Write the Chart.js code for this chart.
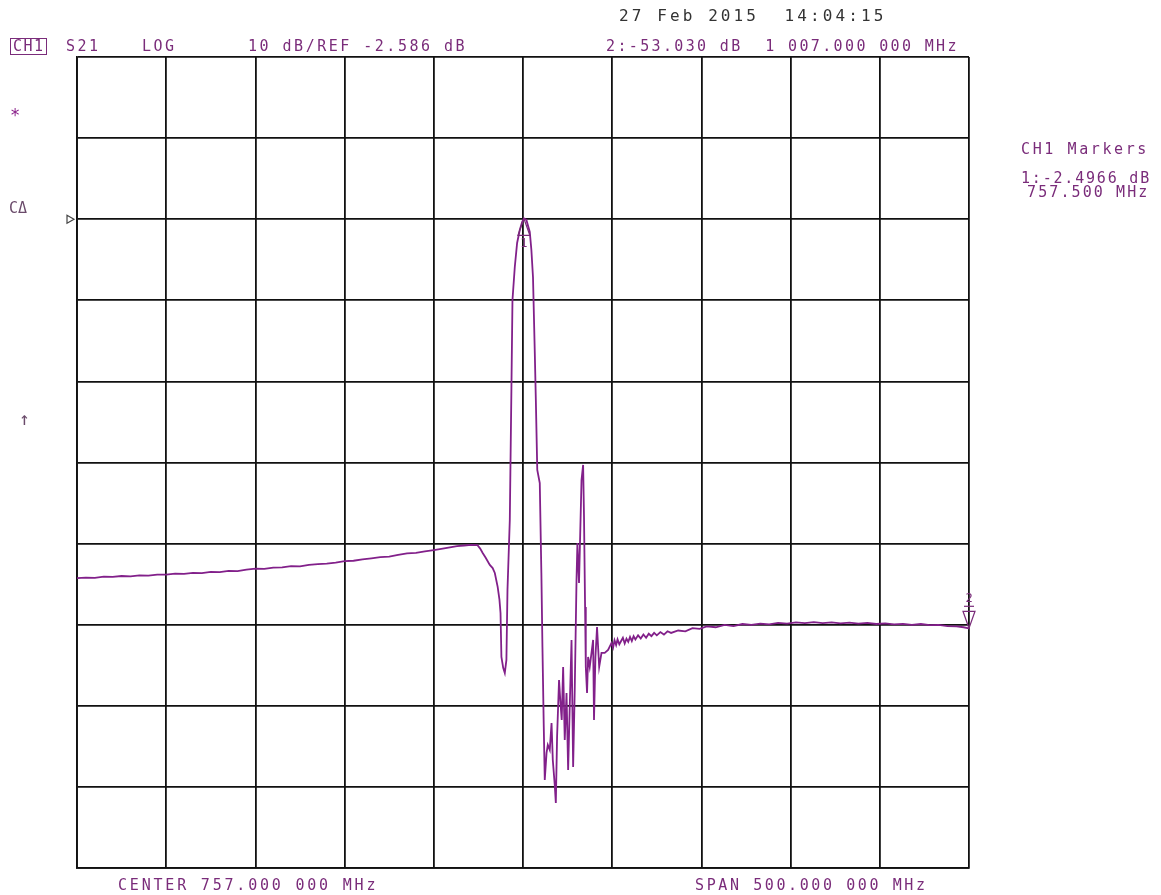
<!DOCTYPE html>
<html><head><meta charset="utf-8">
<script src="https://cdn.jsdelivr.net/npm/chart.js@4"></script>
<style>
html,body{margin:0;padding:0;background:#fff;}
#wrap{position:relative;width:1161px;height:895px;overflow:hidden;background:#fff;}
#c{position:absolute;left:0;top:0;}
.t{position:absolute;font-family:"DejaVu Sans Mono",monospace;font-size:15px;letter-spacing:2.5px;color:#7a2c7a;white-space:pre;line-height:15px;}
.d{color:#333;font-size:16px;letter-spacing:3.1px;line-height:16px;}
.g{color:#6a4a6a;}
.box{border:1px solid #7a2c7a;padding:0 1px 0 2px;letter-spacing:1.5px;}
</style></head>
<body><div id="wrap"><canvas id="c" width="1161" height="895"></canvas>
<div class="t d" style="left:619px;top:8px;">27 Feb 2015  14:04:15</div>
<div class="t box" style="left:10px;top:38px;">CH1</div>
<div class="t" style="left:66px;top:39px;">S21</div>
<div class="t" style="left:142px;top:39px;">LOG</div>
<div class="t" style="left:248px;top:39px;">10 dB/REF -2.586 dB</div>
<div class="t" style="left:606px;top:39px;letter-spacing:2.35px;">2:-53.030 dB  1 007.000 000 MHz</div>
<div class="t" style="left:1021px;top:142px;letter-spacing:2.6px;">CH1 Markers</div>
<div class="t" style="left:1021px;top:171px;letter-spacing:1.8px;">1:-2.4966 dB</div>
<div class="t" style="left:1027px;top:185px;letter-spacing:2.1px;">757.500 MHz</div>
<div class="t" style="left:10px;top:108px;color:#8a208a;font-size:17px;">*</div>
<div class="t g" style="left:9px;top:201px;letter-spacing:0px;">CΔ</div>
<div class="t g" style="left:19px;top:411px;font-size:18px;">↑</div>
<div class="t" style="left:118px;top:878px;letter-spacing:2.8px;">CENTER 757.000 000 MHz</div>
<div class="t" style="left:695px;top:878px;letter-spacing:2.6px;">SPAN 500.000 000 MHz</div>
</div>
<script>
// ---- data ----
const freqMHz = [
 507,512,517,522,527,532,537,542,547,552,557,562,567,572,577,582,587,592,597,602,
 607,612,617,622,627,632,637,642,647,652,657,662,667,672,677,682,687,692,697,702,
 707,712,716,720,724,728,731.5,733,734.4,736,738.4,740,741.2,742.8,743.8,744.4,744.9,745.9,746.8,747.7,
 748.3,749.6,750.5,751.1,752.4,753.7,755.2,756.5,757.5,758.9,760.8,761.7,762.6,763.6,764.2,765.0,766.4,767.3,767.9,768.6,
 769.2,770.2,770.9,772.0,773.0,773.7,774.8,775.4,776.1,777.2,778.0,778.7,779.5,780.4,781.4,782.3,783.2,784.2,785.1,786.0,
 787.0,787.5,788.4,789.8,790.7,791.2,791.8,792.2,792.9,793.5,794.4,795.4,796.3,796.8,797.6,798.5,799.7,801.0,802.8,804.7,
 806.6,807.5,808.3,809.2,810,811,812,813,814,815,816,817,818,819,820,821.5,823,824.5,826,827.5,
 829,830.5,832,834,836,838,840,844,848,852,856,860,
 865,870,875,880,885,890,895,900,905,910,915,920,925,930,935,940,945,950,955,960,
 965,970,975,980,985,990,995,1000,1004,1007
];
const s21dB = [
 -46.85,-46.78,-46.80,-46.66,-46.70,-46.58,-46.62,-46.50,-46.53,-46.42,-46.40,-46.28,-46.33,-46.20,-46.22,-46.08,-46.10,-45.95,-45.98,-45.80,
 -45.66,-45.70,-45.55,-45.52,-45.36,-45.40,-45.20,-45.12,-45.05,-44.92,-44.75,-44.70,-44.52,-44.40,-44.26,-44.18,-43.98,-43.80,-43.72,-43.55,
 -43.38,-43.20,-43.05,-42.90,-42.82,-42.75,-42.78,-43.20,-43.74,-44.30,-45.22,-45.60,-46.21,-47.93,-49.50,-51.14,-56.57,-57.90,-58.54,-56.93,
 -48.30,-39.67,-23.65,-12.55,-8.48,-5.52,-3.92,-2.93,-2.50,-2.68,-4.16,-6.38,-9.71,-18.96,-24.88,-33.51,-35.11,-46.21,-55.33,-64.70,
 -71.73,-68.40,-67.42,-68.03,-64.70,-69.27,-72.35,-74.57,-66.43,-59.40,-62.24,-64.33,-57.80,-66.80,-61.00,-70.50,-62.70,-54.47,-70.13,-60.63,
 -47.07,-42.51,-47.44,-34.74,-32.89,-39.30,-50.40,-57.80,-61.00,-56.57,-57.80,-56.07,-54.47,-64.33,-56.57,-52.87,-57.80,-56.07,-56.07,-55.70,
 -54.84,-55.40,-54.50,-55.10,-54.40,-55.00,-54.60,-54.20,-54.90,-54.30,-54.70,-54.10,-54.60,-54.00,-54.40,-53.90,-54.30,-53.80,-54.20,-53.70,
 -54.00,-53.60,-53.90,-53.50,-53.80,-53.40,-53.60,-53.30,-53.40,-53.00,-53.10,-52.80,
 -52.90,-52.60,-52.75,-52.50,-52.60,-52.45,-52.55,-52.35,-52.45,-52.30,-52.40,-52.28,-52.38,-52.30,-52.42,-52.32,-52.45,-52.36,-52.50,-52.42,
 -52.55,-52.48,-52.60,-52.50,-52.65,-52.60,-52.75,-52.80,-52.90,-53.03
];
// grid divisions: center 757 MHz, span 500 MHz; 10 dB/div, REF -2.586 dB at 8th division
const xGridMHz = [507,557,607,657,707,757,807,857,907,957,1007];
const yGridDb = [-82.586,-72.586,-62.586,-52.586,-42.586,-32.586,-22.586,-12.586,-2.586,7.414,17.414];
const refDb = -2.586;
const markerLabels = ['1','2'];
const markerFreq = [757.5, 1007];
const markerDb = [-2.4966, -53.030];

const traceColor = '#82208a';
const markColor = '#7a2c7a';

const markerPlugin = {
  id: 'vnaMarkers',
  afterDatasetsDraw(chart) {
    const {ctx, scales: {x, y}} = chart;
    ctx.save();
    ctx.strokeStyle = markColor; ctx.fillStyle = markColor; ctx.lineWidth = 1.2;
    ctx.font = '12px "DejaVu Sans Mono"'; ctx.textAlign = 'center';
    // marker 1 (drawn below the trace, apex up)
    let px = x.getPixelForValue(markerFreq[0]), py = y.getPixelForValue(markerDb[0]);
    ctx.beginPath(); ctx.moveTo(px, py); ctx.lineTo(px - 6, py + 17); ctx.lineTo(px + 6, py + 17); ctx.closePath(); ctx.stroke();
    ctx.textBaseline = 'top'; ctx.fillText(markerLabels[0], px, py + 19);
    // marker 2 (above the trace, apex down)
    px = x.getPixelForValue(markerFreq[1]); py = y.getPixelForValue(markerDb[1]);
    ctx.beginPath(); ctx.moveTo(px, py); ctx.lineTo(px - 6, py - 17); ctx.lineTo(px + 6, py - 17); ctx.closePath(); ctx.stroke();
    ctx.beginPath(); ctx.moveTo(px - 5, py - 22); ctx.lineTo(px + 5, py - 22); ctx.stroke();
    ctx.textBaseline = 'bottom'; ctx.fillText(markerLabels[1], px, py - 23);
    // reference position indicator on the left
    const ry = y.getPixelForValue(refDb), lx = x.left;
    ctx.strokeStyle = '#444'; ctx.lineWidth = 1.2;
    ctx.beginPath(); ctx.moveTo(lx - 10, ry - 4); ctx.lineTo(lx - 3, ry); ctx.lineTo(lx - 10, ry + 4); ctx.closePath(); ctx.stroke();
    ctx.restore();
  }
};

new Chart(document.getElementById('c'), {
  type: 'scatter',
  data: {
    datasets: [{
      label: 'S21',
      data: freqMHz.map((f, i) => ({x: f, y: s21dB[i]})),
      showLine: true,
      borderColor: traceColor,
      borderWidth: 1.8,
      pointRadius: 0,
      tension: 0
    }]
  },
  options: {
    responsive: false,
    animation: false,
    devicePixelRatio: 1,
    layout: {padding: {left: 77, top: 57, right: 192, bottom: 27}},
    plugins: {legend: {display: false}, tooltip: {enabled: false}, title: {display: false}},
    scales: {
      x: {
        type: 'linear', min: 507, max: 1007,
        afterBuildTicks: a => { a.ticks = xGridMHz.map(v => ({value: v})); },
        ticks: {display: false},
        grid: {color: '#111', lineWidth: 1.8, drawTicks: false},
        border: {color: '#111', width: 1.8}
      },
      y: {
        type: 'linear', min: -82.586, max: 17.414,
        afterBuildTicks: a => { a.ticks = yGridDb.map(v => ({value: v})); },
        ticks: {display: false},
        grid: {color: '#111', lineWidth: 1.8, drawTicks: false},
        border: {color: '#111', width: 1.8}
      }
    }
  },
  plugins: [markerPlugin]
});
</script>
</body></html>
